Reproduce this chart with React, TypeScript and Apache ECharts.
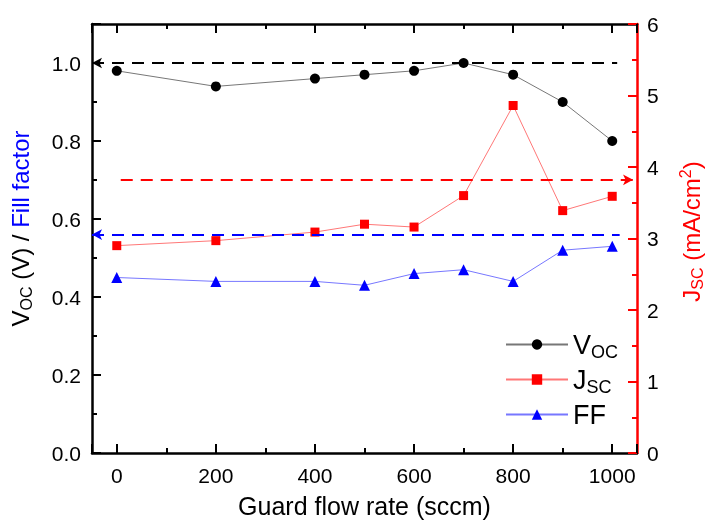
import React, { useEffect, useRef } from 'react';
import * as echarts from 'echarts';

const flowRates = [0, 200, 400, 500, 600, 700, 800, 900, 1000];
const vocValues = [0.98, 0.94, 0.96, 0.97, 0.98, 1.0, 0.97, 0.9, 0.8];
const jscValues = [2.9, 2.97, 3.09, 3.2, 3.16, 3.6, 4.86, 3.39, 3.59];
const ffValues = [0.45, 0.44, 0.44, 0.43, 0.46, 0.47, 0.44, 0.52, 0.53];

const vocRef = 1.0; // black dashed, left axis
const jscRef = 3.82; // red dashed, right axis
const ffRef = 0.56; // blue dashed, left axis

const xTickLabels = [0, 200, 400, 600, 800, 1000];
const yLeftTickLabels = [0, 0.2, 0.4, 0.6, 0.8, 1.0];
const yRightTickLabels = [0, 1, 2, 3, 4, 5, 6];

const FONT = 'Liberation Sans, Arial, sans-serif';

export default function App() {
  const ref = useRef<HTMLDivElement>(null);
  useEffect(() => {
    if (!ref.current) return;
    const chart = echarts.init(ref.current, undefined, { renderer: 'svg' });
    const pair = (ys: number[]) => flowRates.map((x, i) => [x, ys[i]]);
    const axisLine = (color: string) => ({ show: true, onZero: false, lineStyle: { color, width: 2.5 } });
    const dashed = (color: string) => ({ color, width: 2, type: [12, 8] as any });
    const xCommon = {
      type: 'value',
      min: -50,
      max: 1050,
      splitNumber: 5,
      axisLine: axisLine('#000'),
      axisTick: { show: true, inside: true, length: 9, lineStyle: { color: '#000', width: 2 } },
      minorTick: { show: true, splitNumber: 2, length: 5, lineStyle: { color: '#000', width: 2 } },
      splitLine: { show: false },
    };

    const option: any = {
      animation: false,
      textStyle: { fontFamily: FONT },
      grid: { left: 92, top: 24, width: 545, height: 429, containLabel: false, outerBoundsMode: 'none' },
      xAxis: [
        {
          ...xCommon,
          position: 'bottom',
          axisLabel: {
            margin: 12,
            fontSize: 21,
            color: '#000',
            fontFamily: FONT,
            formatter: (v: number) => (xTickLabels.indexOf(v) >= 0 ? String(v) : ''),
          },
          name: 'Guard flow rate (sccm)',
          nameLocation: 'middle',
          nameGap: 40,
          nameTextStyle: { fontSize: 25, lineHeight: 25, color: '#000', fontFamily: FONT },
        },
        {
          ...xCommon,
          position: 'top',
          axisLabel: { show: false },
        },
      ],
      yAxis: [
        {
          type: 'value',
          min: 0,
          max: 1.1,
          interval: 0.2,
          position: 'left',
          axisLine: axisLine('#000'),
          axisTick: { show: true, inside: true, length: 9, lineStyle: { color: '#000', width: 2 } },
          minorTick: { show: true, splitNumber: 2, length: 5, lineStyle: { color: '#000', width: 2 } },
          splitLine: { show: false },
          axisLabel: {
            margin: 11,
            fontSize: 21,
            color: '#000',
            fontFamily: FONT,
            formatter: (v: number) =>
              yLeftTickLabels.some((t) => Math.abs(t - v) < 1e-9) ? v.toFixed(1) : '',
          },
          name: '{b|V}{s|OC}{b| (V) / }{bl|Fill factor}',
          nameLocation: 'middle',
          nameRotate: 90,
          nameGap: 58,
          nameTextStyle: {
            fontFamily: FONT,
            padding: [0, 0, 0, 20],
            rich: {
              b: { fontSize: 24, color: '#000', fontFamily: FONT },
              s: { fontSize: 16, color: '#000', fontFamily: FONT, padding: [12, 0, 0, 0] },
              bl: { fontSize: 24, color: '#0000ff', fontFamily: FONT },
            },
          },
        },
        {
          type: 'value',
          min: 0,
          max: 6,
          interval: 1,
          position: 'right',
          axisLine: axisLine('#ff0000'),
          axisTick: { show: true, inside: true, length: 9, lineStyle: { color: '#ff0000', width: 2 } },
          minorTick: { show: true, splitNumber: 2, length: 5, lineStyle: { color: '#ff0000', width: 2 } },
          splitLine: { show: false },
          axisLabel: {
            margin: 10,
            fontSize: 21,
            color: '#000',
            fontFamily: FONT,
            formatter: (v: number) => (yRightTickLabels.indexOf(v) >= 0 ? String(v) : ''),
          },
          name: '{b|J}{s|SC}{b| (mA/cm}{p|2}{b|)}',
          nameLocation: 'middle',
          nameRotate: 90,
          nameGap: 40,
          nameTextStyle: {
            fontFamily: FONT,
            padding: [0, 0, 0, 14],
            rich: {
              b: { fontSize: 24, color: '#ff0000', fontFamily: FONT },
              s: { fontSize: 16, color: '#ff0000', fontFamily: FONT, padding: [12, 0, 0, 0] },
              p: { fontSize: 16, color: '#ff0000', fontFamily: FONT, padding: [0, 0, 12, 0] },
            },
          },
        },
      ],
      legend: {
        orient: 'vertical',
        left: 500,
        top: 326,
        itemWidth: 62,
        itemHeight: 13,
        itemGap: 5,
        data: ['Voc', 'Jsc', 'FF'],
        formatter: (name: string) =>
          name === 'Voc' ? '{b|V}{s|OC}' : name === 'Jsc' ? '{b|J}{s|SC}' : '{b|FF}',
        textStyle: {
          fontFamily: FONT,
          fontSize: 26,
          rich: {
            b: { fontSize: 27, color: '#000', fontFamily: FONT },
            s: { fontSize: 18, color: '#000', fontFamily: FONT, padding: [15, 0, 0, 0] },
          },
        },
      },
      series: [
        {
          name: 'Voc',
          type: 'line',
          xAxisIndex: 0,
          yAxisIndex: 0,
          data: pair(vocValues),
          symbol: 'circle',
          symbolSize: 10,
          itemStyle: { color: '#000' },
          lineStyle: { color: '#777', width: 1 },
          markLine: {
            silent: true,
            symbol: ['arrow', 'none'],
            symbolSize: [8, 10],
            label: { show: false },
            lineStyle: dashed('#000'),
            data: [[{ coord: [-50, vocRef] }, { coord: [1010, vocRef] }]],
          },
        },
        {
          name: 'Jsc',
          type: 'line',
          xAxisIndex: 0,
          yAxisIndex: 1,
          data: pair(jscValues),
          symbol: 'rect',
          symbolSize: 9,
          itemStyle: { color: '#ff0000' },
          lineStyle: { color: '#ff7777', width: 1 },
          markLine: {
            silent: true,
            symbol: ['none', 'arrow'],
            symbolSize: [8, 10],
            label: { show: false },
            lineStyle: dashed('#ff0000'),
            data: [[{ coord: [8, jscRef] }, { coord: [1042, jscRef] }]],
          },
        },
        {
          name: 'FF',
          type: 'line',
          xAxisIndex: 0,
          yAxisIndex: 0,
          data: pair(ffValues),
          symbol: 'triangle',
          symbolSize: 11,
          itemStyle: { color: '#0000ff' },
          lineStyle: { color: '#7777ff', width: 1 },
          markLine: {
            silent: true,
            symbol: ['arrow', 'none'],
            symbolSize: [8, 10],
            label: { show: false },
            lineStyle: dashed('#0000ff'),
            data: [[{ coord: [-50, ffRef] }, { coord: [1015, ffRef] }]],
          },
        },
      ],
    };
    chart.setOption(option);
    return () => chart.dispose();
  }, []);
  return <div ref={ref} style={{ position: 'fixed', left: 0, top: 0, width: 708, height: 522 }} />;
}
